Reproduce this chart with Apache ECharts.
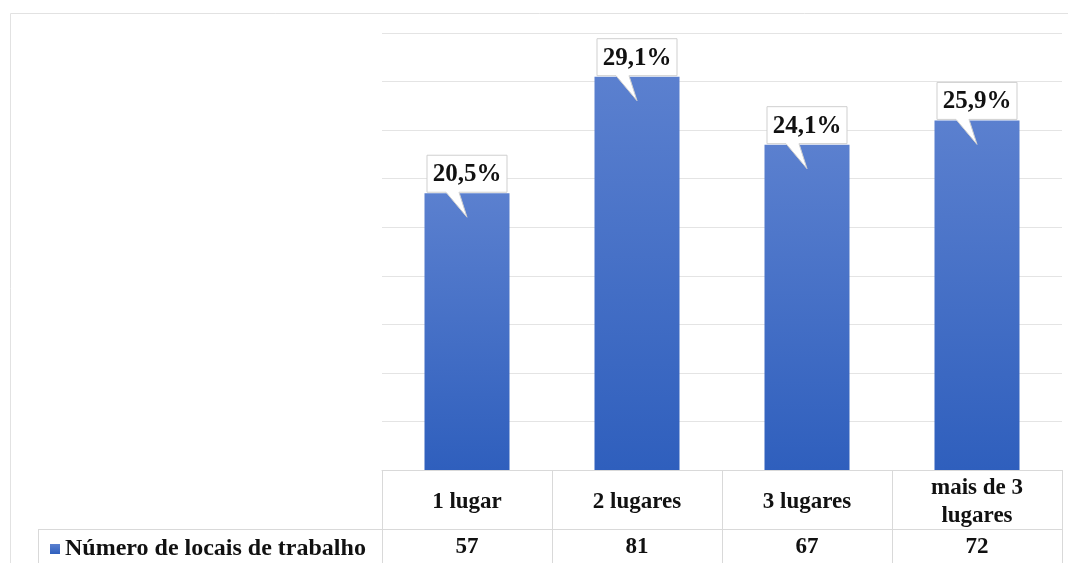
<!DOCTYPE html>
<html>
<head>
<meta charset="utf-8">
<script src="https://cdn.jsdelivr.net/npm/echarts@6/dist/echarts.min.js"></script>
<style>
  html, body { margin: 0; padding: 0; background: #fff; }
  #chart { width: 1068px; height: 563px; }
</style>
</head>
<body>
<div id="chart"></div>
<script>
// dados
var categorias = ['1 lugar', '2 lugares', '3 lugares', 'mais de 3\nlugares'];
var quantidades = [57, 81, 67, 72];
var percentuais = ['20,5%', '29,1%', '24,1%', '25,9%'];
var nomeSerie = 'Número de locais de trabalho';

var fonte = '"Liberation Serif", "Times New Roman", serif';
var corLinha = '#d9d9d9';

var myChart = echarts.init(document.getElementById('chart'));

// balões com o percentual, desenhados a partir da coordenada do topo da barra
function desenhaBalao(params, api) {
	var p = api.coord([api.value(0), api.value(1)]);
	var cx = p[0], top = p[1];
	var w = 80, h = 37;
	var x0 = cx - w / 2, x1 = cx + w / 2;
	var y0 = top - h - 1, y1 = top - 1;
	return {
		type : 'group',
		children : [ {
			type : 'polygon',
			shape : {
				points : [ [ x0, y0 ], [ x1, y0 ], [ x1, y1 ], [ cx - 8, y1 ],
						[ cx, top + 24 ], [ cx - 21, y1 ], [ x0, y1 ] ]
			},
			style : {
				fill : '#fff',
				stroke : '#cfcfcf',
				lineWidth : 1
			}
		}, {
			type : 'text',
			style : {
				text : percentuais[params.dataIndex],
				x : cx,
				y : y0 + h / 2 + 1,
				align : 'center',
				verticalAlign : 'middle',
				font : 'bold 25px ' + fonte,
				fill : '#111'
			}
		} ]
	};
}

var option = {
	animation : false,
	grid : {
		left : 382,
		right : 6,
		top : 33,
		bottom : 93
	},
	legend : {
		left : 45,
		top : 532,
		itemWidth : 10,
		itemHeight : 10,
		icon : 'rect',
		textStyle : {
			fontFamily : fonte,
			fontWeight : 'bold',
			fontSize : 24,
			color : '#111'
		},
		data : [ nomeSerie ]
	},
	xAxis : [ {
		type : 'category',
		data : categorias,
		axisLine : {
			lineStyle : {
				color : corLinha
			}
		},
		axisTick : {
			show : true,
			length : 93,
			lineStyle : {
				color : corLinha
			}
		},
		axisLabel : {
			margin : 32,
			verticalAlign : 'middle',
			lineHeight : 28,
			fontFamily : fonte,
			fontWeight : 'bold',
			fontSize : 23,
			color : '#111'
		}
	}, {
		type : 'category',
		position : 'bottom',
		data : categorias,
		axisLine : {
			show : false
		},
		axisTick : {
			show : false
		},
		axisLabel : {
			margin : 77,
			verticalAlign : 'middle',
			fontFamily : fonte,
			fontWeight : 'bold',
			fontSize : 23,
			color : '#111',
			formatter : function(v, i) {
				return String(quantidades[i]);
			}
		}
	} ],
	yAxis : {
		type : 'value',
		min : 0,
		max : 90,
		interval : 10,
		axisLabel : {
			show : false
		},
		axisLine : {
			show : false
		},
		axisTick : {
			show : false
		},
		splitLine : {
			lineStyle : {
				color : '#e4e4e4'
			}
		}
	},
	series : [ {
		name : nomeSerie,
		type : 'bar',
		barWidth : '50%',
		data : quantidades,
		itemStyle : {
			color : new echarts.graphic.LinearGradient(0, 0, 0, 1, [ {
				offset : 0,
				color : '#5b80cf'
			}, {
				offset : 1,
				color : '#2f5fbd'
			} ])
		}
	}, {
		type : 'custom',
		z : 5,
		renderItem : desenhaBalao,
		encode : {
			x : 0,
			y : 1
		},
		data : quantidades.map(function(v, i) {
			return [ i, v ];
		})
	} ],
	graphic : [ {
		type : 'rect',
		silent : true,
		shape : {
			x : 10.5,
			y : 13.5,
			width : 1200,
			height : 700
		},
		style : {
			fill : 'none',
			stroke : '#e2e2e2',
			lineWidth : 1
		}
	}, {
		type : 'line',
		silent : true,
		shape : {
			x1 : 38,
			y1 : 529.5,
			x2 : 1062,
			y2 : 529.5
		},
		style : {
			stroke : corLinha,
			lineWidth : 1
		}
	}, {
		type : 'line',
		silent : true,
		shape : {
			x1 : 38.5,
			y1 : 529,
			x2 : 38.5,
			y2 : 563
		},
		style : {
			stroke : corLinha,
			lineWidth : 1
		}
	} ]
};

myChart.setOption(option);
</script>
</body>
</html>
